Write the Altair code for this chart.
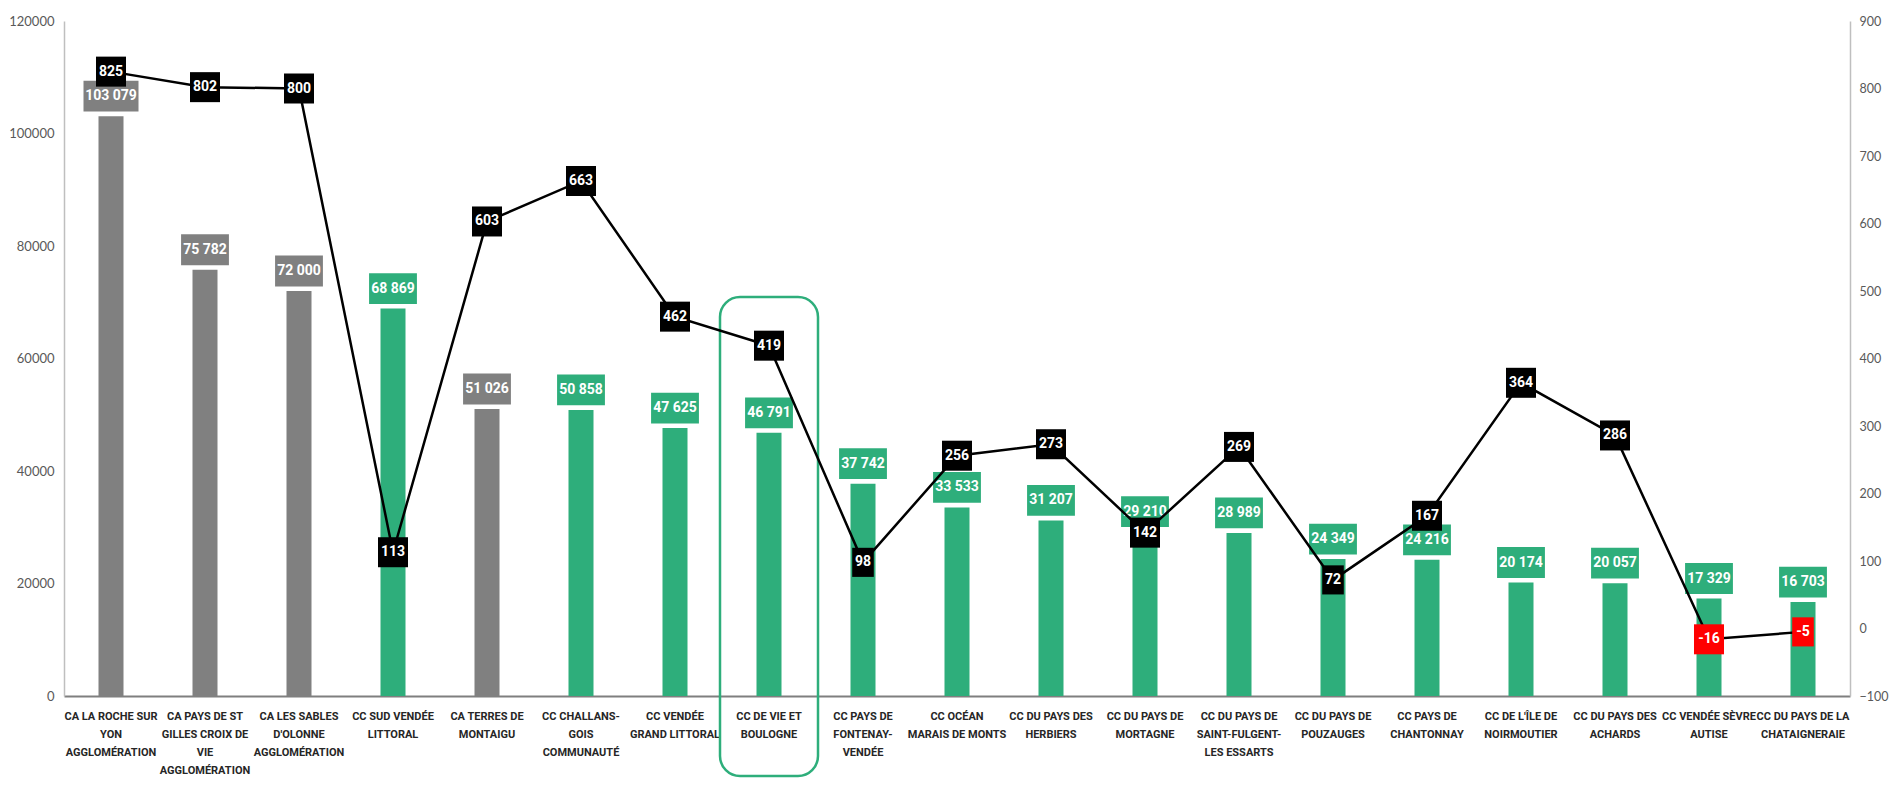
import altair as alt
import pandas as pd

# ---- data ----
categories = [
    "CA LA ROCHE SUR|YON|AGGLOMÉRATION",
    "CA PAYS DE ST|GILLES CROIX DE|VIE|AGGLOMÉRATION",
    "CA LES SABLES|D'OLONNE|AGGLOMÉRATION",
    "CC SUD VENDÉE|LITTORAL",
    "CA TERRES DE|MONTAIGU",
    "CC CHALLANS-|GOIS|COMMUNAUTÉ",
    "CC  VENDÉE|GRAND LITTORAL",
    "CC DE VIE ET|BOULOGNE",
    "CC PAYS DE|FONTENAY-|VENDÉE",
    "CC OCÉAN|MARAIS DE MONTS",
    "CC DU PAYS DES|HERBIERS",
    "CC DU PAYS DE|MORTAGNE",
    "CC DU PAYS DE|SAINT-FULGENT-|LES ESSARTS",
    "CC DU PAYS DE|POUZAUGES",
    "CC PAYS DE|CHANTONNAY",
    "CC DE L'ÎLE DE|NOIRMOUTIER",
    "CC DU PAYS DES|ACHARDS",
    "CC VENDÉE SÈVRE|AUTISE",
    "CC DU PAYS DE LA|CHATAIGNERAIE",
]
groups = ["CA", "CA", "CA", "CC", "CA", "CC", "CC", "CC", "CC", "CC",
          "CC", "CC", "CC", "CC", "CC", "CC", "CC", "CC", "CC"]
population = [103079, 75782, 72000, 68869, 51026, 50858, 47625, 46791, 37742,
              33533, 31207, 29210, 28989, 24349, 24216, 20174, 20057, 17329, 16703]
variation = [825, 802, 800, 113, 603, 663, 462, 419, 98, 256, 273, 142, 269,
             72, 167, 364, 286, -16, -5]
highlighted = "CC DE VIE ET|BOULOGNE"

left_ticks = [0, 20000, 40000, 60000, 80000, 100000, 120000]
right_ticks = [-100, 0, 100, 200, 300, 400, 500, 600, 700, 800, 900]

df = pd.DataFrame({
    "cat": categories,
    "grp": groups,
    "pop": population,
    "delta": variation,
    "plabel": [f"{v:,}".replace(",", " ") for v in population],
    "dlabel": [str(v) for v in variation],
    "hl": [c == highlighted for c in categories],
})

GREY = "#808080"
GREEN = "#2eae7b"
NARROW = "Roboto, 'Liberation Sans', sans-serif"
TICKFONT = "Lato, 'Open Sans', sans-serif"

x_enc = alt.X(
    "cat:N", sort=categories,
    scale=alt.Scale(paddingInner=0, paddingOuter=0),
    axis=alt.Axis(
        title=None, labelAngle=0, labelExpr="split(datum.value, '|')",
        labelBaseline="top", labelPadding=14, labelLineHeight=18,
        labelFont=NARROW, labelFontSize=11, labelFontWeight="bold",
        labelColor="#262626", ticks=False, domainColor="#7f7f7f",
        domainWidth=2, labelLimit=200,
    ),
)

y_left = alt.Y(
    "pop:Q",
    scale=alt.Scale(domain=[0, 120000], nice=False, zero=True),
    axis=alt.Axis(
        values=left_ticks, format="d", title=None, ticks=False, grid=False,
        domainColor="#bfbfbf", domainWidth=1.5, labelPadding=10,
        labelFont=TICKFONT, labelFontSize=13, labelColor="#595959",
    ),
)
y_right = alt.Y(
    "delta:Q",
    scale=alt.Scale(domain=[-100, 900], nice=False, zero=False),
    axis=alt.Axis(
        orient="right", values=right_ticks, format="d", title=None,
        ticks=False, grid=False, domainColor="#bfbfbf", domainWidth=1.5,
        labelPadding=9, labelFont=TICKFONT, labelFontSize=12.5,
        labelColor="#595959",
    ),
)
color_enc = alt.Color("grp:N", scale=alt.Scale(domain=["CA", "CC"], range=[GREY, GREEN]), legend=None)

base = alt.Chart(df).encode(x=x_enc)

# highlight frame around one category
highlight = base.transform_filter("datum.hl").mark_bar(
    width=98, fillOpacity=0, stroke=GREEN, strokeWidth=2.5, cornerRadius=20
).encode(y=alt.value(276), y2=alt.value(755))

bars = base.mark_bar(width=25).encode(y=y_left, color=color_enc)

PATH7 = "M-1,-0.56H1V0.56H-1Z"
PATH6 = "M-0.87,-0.56H0.87V0.56H-0.87Z"
bar_boxes = base.mark_point(filled=True, opacity=1, size=3025, yOffset=-20, strokeWidth=0).encode(
    y=y_left, color=color_enc,
    shape=alt.condition("length(datum.plabel) > 6", alt.value(PATH7), alt.value(PATH6)),
)
bar_text = base.mark_text(
    yOffset=-20, font=NARROW, fontSize=14, fontWeight="bold", color="white",
    align="center", baseline="middle",
).encode(y=y_left, text="plabel:N")

left_group = alt.layer(highlight, bars, bar_boxes, bar_text)

line = base.mark_line(color="black", strokeWidth=2.5).encode(y=y_right)
SQ = "M-1,-1H1V1H-1Z"
NARROWSQ = "M-0.72,-0.97H0.72V0.97H-0.72Z"
line_boxes = base.mark_point(filled=True, opacity=1, size=900, strokeWidth=0).encode(
    y=y_right,
    color=alt.condition("datum.delta < 0", alt.value("#ff0000"), alt.value("black")),
    shape=alt.condition("length(datum.dlabel) < 3", alt.value(NARROWSQ), alt.value(SQ)),
)
line_text = base.mark_text(
    font=NARROW, fontSize=14, fontWeight="bold", color="white",
    align="center", baseline="middle",
).encode(y=y_right, text="dlabel:N")

right_group = alt.layer(line, line_boxes, line_text)

chart = alt.layer(left_group, right_group).resolve_scale(y="independent").properties(
    width=1786, height=675,
    autosize=alt.AutoSizeParams(type="none"),
    padding={"left": 56, "top": 13, "right": 40, "bottom": 83},
    background="white",
).configure_view(stroke=None)

chart.save("out.html", embed_options={"renderer": "svg", "actions": False})
